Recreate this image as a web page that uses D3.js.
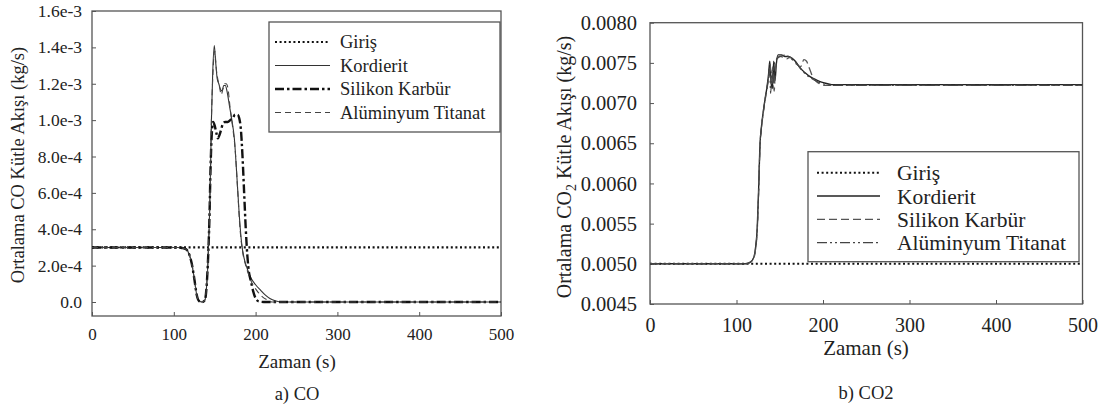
<!DOCTYPE html>
<html><head><meta charset="utf-8">
<script src="https://cdn.jsdelivr.net/npm/d3@7"></script>
<style>body{margin:0;background:#fff}svg{display:block}</style>
</head><body><svg id="c" width="1107" height="409" font-family="Liberation Serif"></svg>
<script>
// ---------- DATA ----------
const seriesNames = ["Giriş","Kordierit","Silikon Karbür","Alüminyum Titanat"];
const xTicks = [0,100,200,300,400,500];
// CO chart (values in kg/s)
const coTickLabels = ["0.0","2.0e-4","4.0e-4","6.0e-4","8.0e-4","1.0e-3","1.2e-3","1.4e-3","1.6e-3"];
const coTickValues = [0,2e-4,4e-4,6e-4,8e-4,1e-3,1.2e-3,1.4e-3,1.6e-3];
const coGirisT = [0,500];
const coGirisV = [3e-4,3e-4];
const coKordT = [0,105,110,115,119,122,125,128,131,135,138,140,142,143.5,145,146,147.5,149.5,151,153,155,157,159,161,163,165,168,171,174,177,180,183,186,190,194,200,206,212,218,224,232,500];
const coKordV = [3,3,2.97,2.9,2.6,2.1,1.3,0.4,0.05,0,0.1,0.8,2.5,4.5,7.5,10,12.5,14.1,13.3,12.3,12.0,11.7,11.6,11.9,11.9,11.6,10.8,10.0,9.0,7.0,4.8,3.2,2.4,1.8,1.35,0.95,0.65,0.38,0.18,0.07,0,0].map(v=>v*1e-4);
const coSicT = [0,105,110,115,119,122,125,128,131,135,138,140,142,143.5,145,146.5,148,150,152,154,156,158,160,163,166,169,172,175,178,180,182,184,186,188,190,192,194,197,200,204,210,500];
const coSicV = [3,3,2.97,2.9,2.6,2.1,1.3,0.4,0.05,0,0.1,0.8,2.5,4.5,7.5,9.3,9.9,9.7,9.3,9.0,9.2,9.5,9.8,9.9,9.9,10.0,10.1,10.3,10.3,10.1,9.5,8.0,6.0,4.0,2.5,1.6,1.2,0.6,0.2,0.03,0,0].map(v=>v*1e-4);
const coAlT = [0,105,110,115,119,122,125,128,131,135,138,140,142,143.5,145,146,147.5,150,152,154,156,158,160,162,164,166,169,172,175,178,181,184,188,192,196,202,208,214,220,500];
const coAlV = [3,3,2.97,2.9,2.6,2.1,1.3,0.4,0.05,0,0.1,0.8,2.5,4.5,7.5,10,12.2,13.8,12.8,12.2,11.8,11.4,11.7,12.0,12.0,11.8,10.6,9.6,8.4,6.2,4.0,2.8,2.0,1.45,1.0,0.6,0.3,0.12,0,0].map(v=>v*1e-4);
// CO2 chart
const co2TickLabels = ["0.0045","0.0050","0.0055","0.0060","0.0065","0.0070","0.0075","0.0080"];
const co2TickValues = [0.0045,0.005,0.0055,0.006,0.0065,0.007,0.0075,0.008];
const co2GirisT = [0,500];
const co2GirisV = [0.005,0.005];
const co2KordT = [0,110,116,120,122,124,125.5,127,129,131,133,135,137,138.5,140,141.5,143,144.5,146,148,152,156,160,164,168,172,176,180,185,190,196,202,210,220,500];
const co2KordV = [0.00500,0.00500,0.00502,0.00508,0.00520,0.00545,0.00590,0.00645,0.00672,0.00690,0.00705,0.00718,0.00735,0.00752,0.00725,0.00718,0.00752,0.00728,0.00748,0.00760,0.00760,0.00758,0.00758,0.00756,0.00752,0.00746,0.00741,0.00737,0.00733,0.00730,0.00727,0.00725,0.00723,0.00723,0.00723];
const co2SicT = [0,110,116,120,122,124,125.5,127,129,131,133,135,137,139,140.5,142,143.5,145,147,150,154,158,162,166,170,174,178,181,184,188,192,196,202,210,500];
const co2SicV = [0.005,0.005,0.00502,0.00507,0.00518,0.00542,0.00585,0.00640,0.00670,0.00688,0.00703,0.00716,0.00730,0.00748,0.00722,0.00745,0.00715,0.00742,0.00756,0.00758,0.00757,0.00755,0.00757,0.00752,0.00748,0.00745,0.00754,0.00752,0.00744,0.00733,0.00727,0.00724,0.00722,0.00722,0.00722];
const co2AlT = [0,110,116,120,122,124,125.5,127,129,131,133,135,137,138,139.5,141,142.5,144,146,149,153,157,161,165,169,173,177,181,186,191,197,204,212,500];
const co2AlV = [0.005,0.005,0.00502,0.00508,0.00519,0.00543,0.00588,0.00642,0.00671,0.00689,0.00704,0.00717,0.00733,0.00745,0.00712,0.00740,0.00720,0.00750,0.00754,0.00757,0.00759,0.00760,0.00757,0.00754,0.00750,0.00744,0.00739,0.00735,0.00731,0.00728,0.00725,0.00723,0.00722,0.00722];

// ---------- DRAW ----------
const FONT = "Liberation Serif";
const TXT = "#222";
const svg = d3.select("#c");
const zip = (t,v)=>t.map((d,i)=>[d,v[i]]);

function panel(o){
  const g = svg.append("g");
  const x = d3.scaleLinear().domain([0,500]).range([o.x0,o.x1]);
  const y = d3.scaleLinear().domain(o.yDom).range(o.yRange);
  g.append("rect").attr("x",o.x0).attr("y",o.top).attr("width",o.x1-o.x0).attr("height",o.bottom-o.top)
    .attr("fill","none").attr("stroke","#555").attr("stroke-width",1.3);
  const xa = g.append("g").attr("transform",`translate(0,${o.bottom})`)
    .call(d3.axisBottom(x).tickValues(xTicks).tickSizeInner(-4).tickSizeOuter(0).tickPadding(o.xPad));
  xa.attr("font-family",FONT).attr("font-size",o.xFs);
  xa.select(".domain").remove();
  xa.selectAll(".tick line").attr("stroke","#555");
  xa.selectAll("text").attr("font-family",FONT).attr("font-size",o.xFs).attr("fill",TXT);
  const ya = g.append("g").attr("transform",`translate(${o.x0},0)`)
    .call(d3.axisLeft(y).tickValues(o.yTicks).tickFormat((d,i)=>o.yLabels[i]).tickSizeInner(-4).tickSizeOuter(0).tickPadding(o.yPad));
  ya.attr("font-family",FONT).attr("font-size",o.yFs);
  ya.select(".domain").remove();
  ya.selectAll(".tick line").attr("stroke","#555");
  ya.selectAll("text").attr("font-family",FONT).attr("font-size",o.yFs).attr("fill",TXT);
  const line = d3.line().x(d=>x(d[0])).y(d=>y(d[1])).curve(d3.curveMonotoneX);
  const clipId = "clip"+o.id;
  svg.append("clipPath").attr("id",clipId).append("rect").attr("x",o.x0).attr("y",o.top).attr("width",o.x1-o.x0).attr("height",o.bottom-o.top);
  const lg = g.append("g").attr("clip-path",`url(#${clipId})`);
  o.series.forEach(s=>{
    lg.append("path").datum(zip(s.t,s.v)).attr("d",line).attr("fill","none")
      .attr("stroke",s.color).attr("stroke-width",s.w).attr("stroke-dasharray",s.dash||null);
  });
  const L = o.legend;
  g.append("rect").attr("x",L.x).attr("y",L.y).attr("width",L.w).attr("height",L.h)
    .attr("fill","#fff").attr("stroke","#555").attr("stroke-width",1.3);
  o.series.forEach((s,i)=>{
    const yy = L.y + L.first + i*L.step;
    g.append("line").attr("x1",L.lx0).attr("x2",L.lx1).attr("y1",yy).attr("y2",yy)
      .attr("stroke",s.color).attr("stroke-width",s.w).attr("stroke-dasharray",s.dash||null);
    g.append("text").attr("x",L.tx).attr("y",yy).attr("dy","0.35em").attr("font-family",FONT)
      .attr("fill",TXT).attr("font-size",L.fs).text(seriesNames[i]);
  });
  return {x,y,g};
}

panel({
  id:"a", x0:92, x1:501, top:11, bottom:316, yDom:[0,1.6e-3], yRange:[302,11],
  yTicks:coTickValues, yLabels:coTickLabels, xFs:17, yFs:17.5, xPad:12, yPad:10,
  series:[
    {t:coGirisT,v:coGirisV,color:"#111",w:2.2,dash:"2,2.6"},
    {t:coKordT,v:coKordV,color:"#333",w:1.1},
    {t:coSicT,v:coSicV,color:"#111",w:2.4,dash:"9,3,2.5,3"},
    {t:coAlT,v:coAlV,color:"#444",w:1.1,dash:"6,4"}
  ],
  legend:{x:269,y:22,w:231,h:110,first:20,step:23.5,lx0:275,lx1:330,tx:340,fs:18.5}
});
panel({
  id:"b", x0:650, x1:1082.5, top:22.7, bottom:304, yDom:[0.0045,0.008], yRange:[304,22.7],
  yTicks:co2TickValues, yLabels:co2TickLabels, xFs:20, yFs:20.5, xPad:14, yPad:13,
  series:[
    {t:co2GirisT,v:co2GirisV,color:"#111",w:2,dash:"2,2.6"},
    {t:co2KordT,v:co2KordV,color:"#222",w:1.4},
    {t:co2SicT,v:co2SicV,color:"#555",w:1.3,dash:"8,4"},
    {t:co2AlT,v:co2AlV,color:"#444",w:1.1,dash:"10,3,2,3,2,3"}
  ],
  legend:{x:808,y:151.7,w:271,h:110,first:21,step:23.3,lx0:817,lx1:880,tx:897,fs:21.5}
});

svg.append("text").attr("transform","translate(24,165) rotate(-90)").attr("text-anchor","middle")
  .attr("font-family",FONT).attr("fill",TXT).attr("font-size",18.5).text("Ortalama CO Kütle Akışı (kg/s)");
const yl2 = svg.append("text").attr("transform","translate(571,167) rotate(-90)").attr("text-anchor","middle")
  .attr("font-family",FONT).attr("fill",TXT).attr("font-size",20);
yl2.append("tspan").text("Ortalama CO");
yl2.append("tspan").attr("dy",5).attr("font-size",14).text("2");
yl2.append("tspan").attr("dy",-5).text(" Kütle Akışı (kg/s)");

const cap = (x,y,fs,t)=>svg.append("text").attr("x",x).attr("y",y).attr("dy","0.35em").attr("text-anchor","middle")
  .attr("font-family",FONT).attr("fill",TXT).attr("font-size",fs).text(t);
cap(297,361,19,"Zaman (s)");
cap(297,394,18.5,"a) CO");
cap(866,348,21,"Zaman (s)");
cap(866,393,18.5,"b) CO2");
</script></body></html>
